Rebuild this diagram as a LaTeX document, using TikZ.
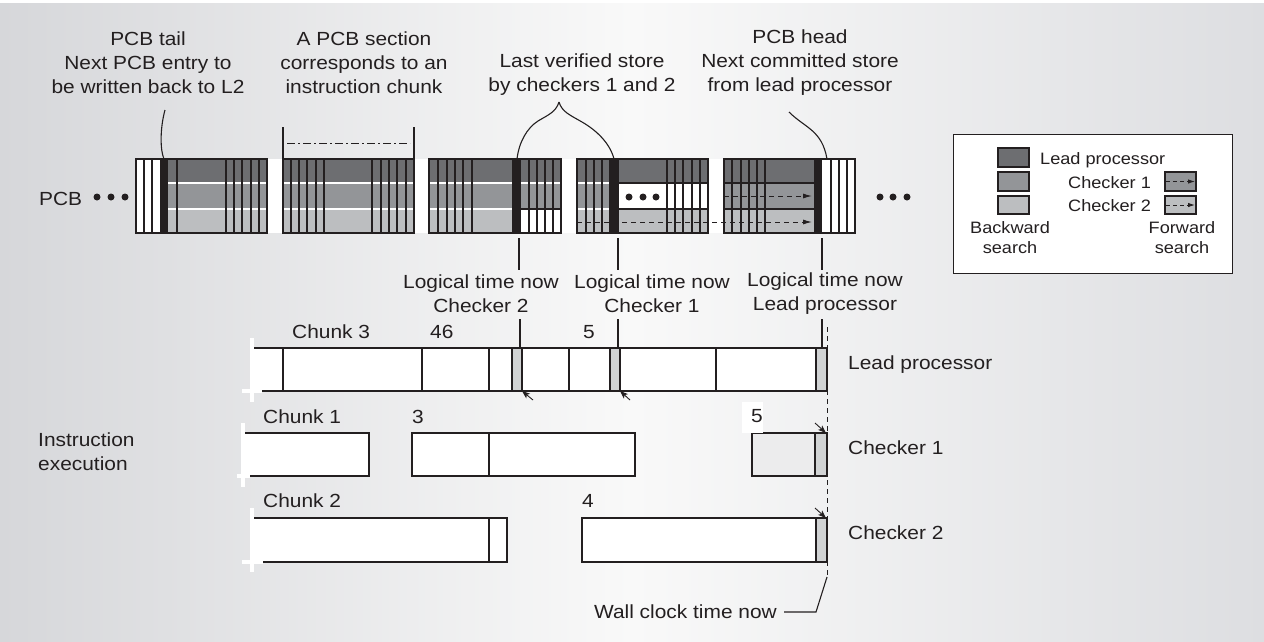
\documentclass[tikz,border=0pt]{standalone}
\usepackage{fontspec}
\setmainfont{Liberation Sans}[FakeStretch=1.1]
\usetikzlibrary{arrows.meta}
\definecolor{bgside}{RGB}{214,215,218}
\definecolor{bgmid}{RGB}{249,249,249}
\definecolor{bgright}{RGB}{221,222,225}
\definecolor{pcbdark}{RGB}{109,110,113}
\definecolor{pcbmid}{RGB}{147,149,152}
\definecolor{pcblight}{RGB}{188,190,192}
\definecolor{pcbblack}{RGB}{35,31,32}
\definecolor{ink}{RGB}{35,31,32}
\definecolor{cellgray}{RGB}{209,211,212}
\definecolor{pale}{RGB}{236,236,237}
\newcommand\pcbrows[2]{%
  \fill[pcbdark] (#1,159) rectangle (#2,183);
  \fill[pcbmid] (#1,183) rectangle (#2,209);
  \fill[pcblight] (#1,209) rectangle (#2,233);}
\begin{document}
\begin{tikzpicture}[x=1pt,y=-1pt,
  pcbline/.style={draw=ink, line width=1.1pt},
  wline/.style={draw=white, line width=1.3pt},
  barline/.style={draw=ink, line width=1.2pt},
  callout/.style={draw=ink, line width=1.1pt},
  lbl/.style={font=\fontsize{19}{24}\selectfont, inner sep=0pt, text=ink, text height=13.6pt, text depth=0pt},
  mlbl/.style={font=\fontsize{19}{24}\selectfont, inner sep=0pt, align=center, text=ink},
  leg/.style={font=\fontsize{16.5}{20}\selectfont, inner sep=0pt, text=ink, text height=12pt, text depth=0pt},
  mleg/.style={font=\fontsize{16.5}{20}\selectfont, inner sep=0pt, align=center, text=ink},
  axtick/.style={draw=white, line width=3.5pt},
  carrow/.style={-{Stealth[length=8pt,width=6pt,inset=2pt]}, draw=ink, line width=0.9pt},
  darrow/.style={draw=ink, line width=1pt, dash pattern=on 5pt off 4pt, -{Latex[length=9pt,width=5pt]}},
  cellbox/.style={draw=ink, line width=1.1pt, fill=cellgray},
  dot/.style={fill=ink}
]
\useasboundingbox (0,0) rectangle (1264,641);
\fill[white] (0,0) rectangle (1264,641);
\shade[left color=bgside, right color=bgright, middle color=bgmid] (0,3) rectangle (1264,641);

% ---------------- top labels ----------------
\node[mlbl] (tail) at (148,63) {PCB tail\\Next PCB entry to\\be written back to L2};
\node[mlbl] (section) at (364,63) {A PCB section\\corresponds to an\\instruction chunk};
\node[mlbl] (verified) at (582,75) {Last verified store\\by checkers 1 and 2};
\node[mlbl] (head) at (800,63) {PCB head\\Next committed store\\from lead processor};

% ---------------- PCB ----------------
\node[lbl, anchor=west] (pcb) at (39,199) {PCB};
\foreach \x in {97,111,125} \fill[dot] (\x,197) circle (3.5pt);
\foreach \x in {880,893,907} \fill[dot] (\x,197) circle (3.5pt);
\fill[white] (136,159) rectangle (855,233);

% section 1
\pcbrows{168}{267}
\draw[wline] (168,183) -- (267,183) (168,209) -- (267,209);
\fill[pcbblack] (160,159) rectangle (168,233);
\foreach \x in {144,152,177,226,234,242,251,259} \draw[pcbline] (\x,159) -- (\x,233);
\draw[pcbline] (136,159) rectangle (267,233);

% section 2
\pcbrows{283}{414}
\draw[wline] (283,183) -- (414,183) (283,209) -- (414,209);
\foreach \x in {291,299,307,316,324,372,381,389,397,406} \draw[pcbline] (\x,159) -- (\x,233);
\draw[pcbline] (283,159) rectangle (414,233);
\draw[pcbline] (283,127) -- (283,159) (414,127) -- (414,159);
\draw[ink, line width=1pt, dash pattern=on 8pt off 3pt on 2pt off 3pt] (287,143) -- (410,143);

% section 3
\fill[pcbdark] (429,159) rectangle (561,183);
\fill[pcbmid] (429,183) rectangle (561,209);
\fill[pcblight] (429,209) rectangle (512,233);
\draw[wline] (429,183) -- (561,183) (429,209) -- (512,209);
\draw[pcbline] (521,209) -- (561,209);
\fill[pcbblack] (512,159) rectangle (521,233);
\foreach \x in {438,447,455,463,472,529,537,545,553} \draw[pcbline] (\x,159) -- (\x,233);
\draw[pcbline] (429,159) rectangle (561,233);

% section 4
\fill[pcbdark] (577,159) rectangle (708,183);
\fill[pcbmid] (577,183) rectangle (609,209);
\fill[pcblight] (577,209) rectangle (708,233);
\draw[wline] (577,183) -- (609,183) (577,209) -- (609,209);
\draw[pcbline] (619,183) -- (708,183) (619,209) -- (708,209);
\fill[pcbblack] (609,159) rectangle (619,233);
\foreach \x in {586,594,602,667,675,683,692,700} \draw[pcbline] (\x,159) -- (\x,233);
\draw[pcbline] (577,159) rectangle (708,233);
\foreach \x in {629,643,656} \fill[dot] (\x,197) circle (3.5pt);

% section 5
\pcbrows{724}{814}
\draw[pcbline] (724,183) -- (814,183) (724,209) -- (814,209);
\fill[pcbblack] (814,159) rectangle (822,233);
\foreach \x in {732,741,749,757,765,831,839,847} \draw[pcbline] (\x,159) -- (\x,233);
\draw[pcbline] (724,159) rectangle (855,233);

% forward search arrows
\draw[darrow] (724,196) -- (812,196);
\draw[darrow] (577,222) -- (812,222);

% callouts from top labels
\coordinate (tailpt) at (164,159);
\coordinate (ver1) at (517,159);
\coordinate (ver2) at (614,159);
\coordinate (headpt) at (827,159);
\draw[callout] (165,110) .. controls (160,128) and (160,150) .. (tailpt);
\draw[callout] (559,102) .. controls (556,112) and (548,115) .. (538,121) .. controls (527,128) and (519,142) .. (ver1);
\draw[callout] (559,102) .. controls (562,112) and (570,115) .. (582,122) .. controls (596,130) and (610,143) .. (ver2);
\draw[callout] (789,112) .. controls (805,128) and (822,130) .. (headpt);

% ---------------- legend ----------------
\node[draw=ink, line width=1.2pt, fill=white, minimum width=279pt, minimum height=139pt, inner sep=0pt, anchor=north west] (legend) at (953,134) {};
\draw[pcbline, fill=pcbdark] (998,148) rectangle (1029,167);
\draw[pcbline, fill=pcbmid] (998,172) rectangle (1029,191);
\draw[pcbline, fill=pcblight] (998,196) rectangle (1029,214);
\node[leg, anchor=west] (leglead) at (1040,158) {Lead processor};
\node[leg, anchor=west] (legc1) at (1068,182) {Checker 1};
\node[leg, anchor=west] (legc2) at (1068,205) {Checker 2};
\draw[pcbline, fill=pcbmid] (1165,172) rectangle (1196,191);
\draw[pcbline, fill=pcblight] (1165,196) rectangle (1196,214);
\draw[ink, line width=0.9pt, dash pattern=on 4pt off 3pt, -{Latex[length=7pt,width=4.5pt]}] (1166,181.5) -- (1195,181.5);
\draw[ink, line width=0.9pt, dash pattern=on 4pt off 3pt, -{Latex[length=7pt,width=4.5pt]}] (1166,205) -- (1195,205);
\node[mleg] (legback) at (1010,238) {Backward\\search};
\node[mleg] (legfwd) at (1182,238) {Forward\\search};

% ---------------- logical time labels ----------------
\node[mlbl] (lt2) at (481,294) {Logical time now\\Checker 2};
\node[mlbl] (lt1) at (652,294) {Logical time now\\Checker 1};
\node[mlbl] (ltl) at (825,294) {Logical time now\\Lead processor};
\draw[callout] (519,238) -- (519,270);
\draw[callout] (618,238) -- (618,270);
\draw[callout] (822,238) -- (822,270);
\draw[callout] (520,319) -- (520,348);
\draw[callout] (618,319) -- (618,348);
\draw[callout] (822,319) -- (822,348);

% ---------------- timelines ----------------
% lead processor
\fill[white] (253,348) rectangle (827,391);
\draw[barline] (253,348) -- (827,348) -- (827,391) -- (253,391);
\foreach \x in {283,422,489,569,716} \draw[barline] (\x,348) -- (\x,391);
\draw[cellbox] (512,348) rectangle (522,391);
\draw[cellbox] (610,348) rectangle (620,391);
\draw[cellbox] (816,348) rectangle (827,391);
\draw[axtick] (252,338) -- (252,402);
\draw[axtick] (242,391) -- (262,391);
\node[lbl, anchor=west] (ck3) at (292,332) {Chunk 3};
\node[lbl, anchor=west] (n46) at (430,332) {46};
\node[lbl, anchor=west] (n5a) at (583,332) {5};
\node[lbl, anchor=west] (lplab) at (848,363) {Lead processor};
\coordinate (c2corner) at (522,391);
\coordinate (c1corner) at (620,391);
\draw[carrow] (533,400) -- (c2corner);
\draw[carrow] (630,400) -- (c1corner);

% checker 1
\fill[white] (245,433) rectangle (369,476);
\draw[barline] (245,433) -- (369,433) -- (369,476) -- (245,476);
\draw[axtick] (243,423) -- (243,487);
\draw[axtick] (237,476) -- (250,476);
\draw[barline, fill=white] (412,433) rectangle (635,476);
\draw[barline] (489,433) -- (489,476);
\draw[barline, fill=pale] (752,433) rectangle (827,476);
\draw[cellbox] (815,433) rectangle (827,476);
\node[lbl, anchor=west] (ck1) at (263,417) {Chunk 1};
\node[lbl, anchor=west] (n3) at (412,417) {3};
\fill[white] (742,402) rectangle (763,433);
\node[lbl] (n5b) at (757,416) {5};
\node[lbl, anchor=west] (c1lab) at (848,448) {Checker 1};
\coordinate (c1top) at (826,433);
\draw[carrow] (815,423) -- (c1top);

% checker 2
\fill[white] (254,518) rectangle (507,562);
\draw[barline] (254,518) -- (507,518) -- (507,562) -- (254,562);
\draw[barline] (489,518) -- (489,562);
\draw[axtick] (252,508) -- (252,572);
\draw[axtick] (242,562) -- (263,562);
\draw[barline, fill=white] (582,518) rectangle (827,562);
\draw[cellbox] (816,518) rectangle (827,562);
\node[lbl, anchor=west] (ck2) at (263,501) {Chunk 2};
\node[lbl, anchor=west] (n4) at (582,501) {4};
\node[lbl, anchor=west] (c2lab) at (848,533) {Checker 2};
\coordinate (c2top) at (826,518);
\draw[carrow] (815,508) -- (c2top);

\node[mlbl, align=left, anchor=west] (instr) at (38,452) {Instruction\\execution};

% wall clock
\node[lbl, anchor=east] (wall) at (777,612) {Wall clock time now};
\coordinate (wtop) at (827,327);
\coordinate (wbot) at (827,577);
\draw[ink, line width=1pt, dash pattern=on 5pt off 4pt] (wtop) -- (wbot);
\draw[callout] (wbot) -- (816,612) -- ([xshift=7pt]wall.east);
\end{tikzpicture}
\end{document}
